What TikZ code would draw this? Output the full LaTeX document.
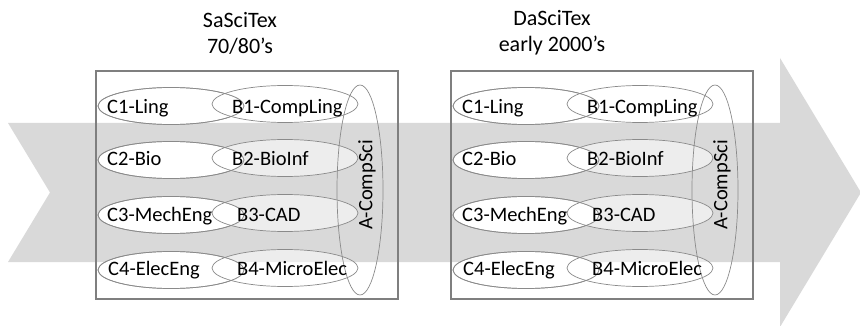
\documentclass[tikz,border=0pt]{standalone}
\usepackage{fontspec}
\setmainfont{Carlito}
\usetikzlibrary{shapes.geometric}
\definecolor{band}{HTML}{D9D9D9}
\definecolor{frame}{HTML}{7F7F7F}
\definecolor{rim}{HTML}{8A8A8A}
\begin{document}
\begin{tikzpicture}[x=1pt,y=-1pt,
  txt/.style={font=\fontsize{20.5}{26}\selectfont, inner sep=0pt, text=black},
  head/.style={font=\fontsize{22}{26}\selectfont, inner sep=0pt, text=black, align=center},
  lbl/.style={txt, anchor=west, text height=13.2pt, text depth=0pt},
  panel/.style={draw=frame, line width=1.8pt, rectangle, inner sep=0pt,
                minimum width=302pt, minimum height=228pt},
  cfield/.style={ellipse, draw=rim, line width=0.7pt, fill=white, inner sep=0pt,
                 minimum width=146pt, minimum height=37pt},
  bfield/.style={ellipse, draw=rim, line width=0.7pt, fill=white, fill opacity=0.55,
                 inner sep=0pt, minimum width=146pt, minimum height=37pt},
  afield/.style={ellipse, draw=rim, line width=0.7pt, inner sep=0pt,
                 minimum width=46pt, minimum height=210pt}]
\useasboundingbox (0,0) rectangle (860,326);

% broad timeline arrow behind both panels
\fill[band] (8,123) -- (780,123) -- (780,58) -- (861,192.5) -- (780,327)
  -- (780,262) -- (8,262) -- (50,192.5) -- cycle;

% titles
\node[head] (title-s) at (240,33) {SaSciTex\\70/80’s};
\node[head] (title-d) at (552,33) {DaSciTex\\early 2000’s};

% the two panels share one layout
\foreach \p/\dx in {s/0, d/355} {
\begin{scope}[xshift=\dx]
  \node[panel] (box-\p) at (247,185) {};
  \foreach \r/\y in {1/106, 2/160, 3/215, 4/270} {
    \node[cfield] (c\r-\p) at (171,\y) {};
    \node[bfield] (b\r-\p) at (285,\y-2) {};
    \draw[rim, line width=0.7pt] (c\r-\p.center) ellipse [x radius=73pt, y radius=18.5pt];
  }
  \node[afield] (a-\p) at (360,190) {};

  \node[lbl] (c1t-\p) at (107,107) {C1-Ling};
  \node[lbl] (c2t-\p) at (107,159) {C2-Bio};
  \node[lbl] (c3t-\p) at (107,215) {C3-MechEng};
  \node[lbl] (c4t-\p) at (108,269) {C4-ElecEng};
  \node[lbl] (b1t-\p) at (232,107) {B1-CompLing};
  \node[lbl] (b2t-\p) at (232,159) {B2-BioInf};
  \node[lbl] (b3t-\p) at (237,215) {B3-CAD};
  \node[lbl] (b4t-\p) at (237,269) {B4-MicroElec};
  \node[txt, rotate=90] (at-\p) at (367,185) {A-CompSci};
\end{scope}
}
\end{tikzpicture}
\end{document}
